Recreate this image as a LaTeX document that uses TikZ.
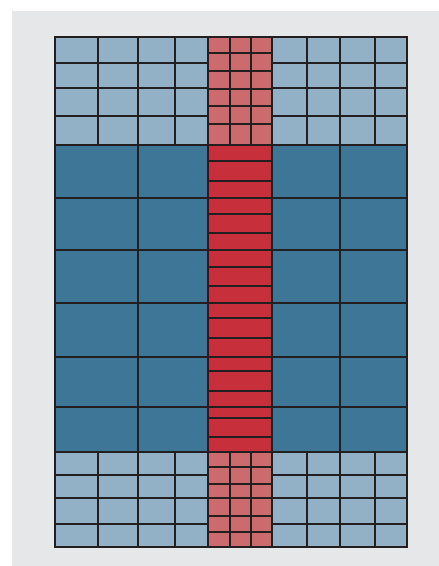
\documentclass[tikz,border=0pt]{standalone}
\usepackage{xcolor}
\definecolor{ink}{HTML}{231F20}
\definecolor{page}{HTML}{E6E7E9}
\definecolor{paleblue}{HTML}{92B0C6}
\definecolor{deepblue}{HTML}{3D7697}
\definecolor{palered}{HTML}{CC6B6D}
\definecolor{deepred}{HTML}{C7303A}
\usepackage{tikz}
\tikzset{
  cell/.style={draw=ink, line width=2pt},
  pale/.style={cell, fill=paleblue},
  deep/.style={cell, fill=deepblue},
  pink/.style={cell, fill=palered},
  crimson/.style={cell, fill=deepred},
}

\begin{document}
\begin{tikzpicture}[x=1pt, y=-1pt]
  \useasboundingbox (0,0) rectangle (439,566);
  \fill[page] (12,11) rectangle (439,566);

  % Small pale cells, top and bottom bands.
  \foreach \ya/\yb in {37/63,63/88,88/116,116/145,452/475,475/498,498/524,524/547}
    \foreach \xa/\xb in {55/98,98/138,138/175,175/208,272/307,307/340,340/375,375/407}
      \draw[pale] (\xa,\ya) rectangle (\xb,\yb);

  % Large deep cells in the middle.
  \foreach \ya/\yb in {145/198,198/250,250/303,303/357,357/407,407/452}
    \foreach \xa/\xb in {55/138,138/208,272/340,340/407}
      \draw[deep] (\xa,\ya) rectangle (\xb,\yb);

  % The red column: small cells at the ends, long strips between.
  \foreach \ya/\yb in {37/53,53/71,71/89,89/106,106/124,124/145,
                       452/467,467/484,484/498,498/516,516/532,532/547}
    \foreach \xa/\xb in {208/230,230/251,251/272}
      \draw[pink] (\xa,\ya) rectangle (\xb,\yb);
  \foreach \ya/\yb in {145/161,161/181,181/198,198/214,214/233,233/250,
                       250/267,267/286,286/303,303/318,318/338,338/357,
                       357/371,371/391,391/407,407/418,418/437,437/452}
    \draw[crimson] (208,\ya) rectangle (272,\yb);

  % Outer frame.
  \draw[ink, line width=2.6pt] (55,37) rectangle (407,547);
\end{tikzpicture}
\end{document}
